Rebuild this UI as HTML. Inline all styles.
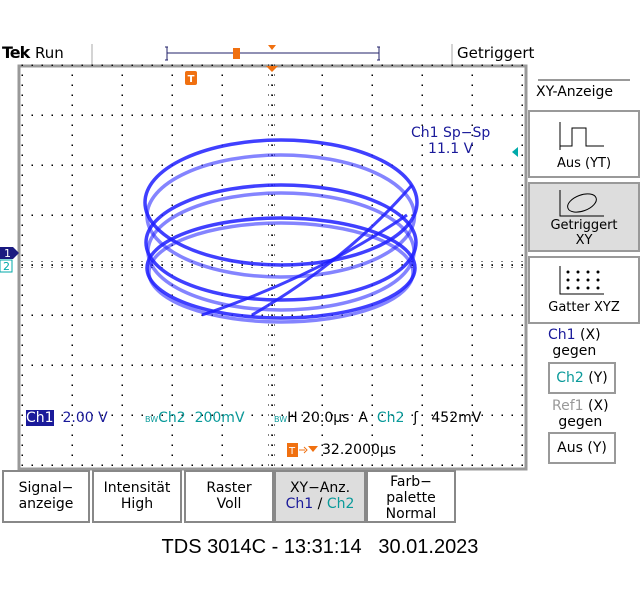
<!DOCTYPE html>
<html><head><meta charset="utf-8">
<style>
body{margin:0;width:640px;height:600px;background:#fff;font-family:"DejaVu Sans","Liberation Sans",sans-serif;position:relative;overflow:hidden}
.a{position:absolute}
.btn{position:absolute;top:470px;height:53px;border:2px solid #888;background:#fff;box-sizing:border-box;text-align:center;font-size:14px;line-height:16px;padding-top:8px;color:#000}
.rb{position:absolute;border:2px solid #999;background:#fff;box-sizing:border-box;text-align:center;font-size:13px}
</style></head><body>
<div class="a" style="left:2px;top:43px;font-weight:bold;font-size:16px;letter-spacing:-1px">Tek</div>
<div class="a" style="left:35px;top:44px;font-size:15px">Run</div>
<div class="a" style="left:457px;top:44px;font-size:15px">Getriggert</div>
<svg class="a" style="left:0;top:0" width="640" height="600">
<line x1="92" y1="44" x2="92" y2="65" stroke="#aaa"/>
<line x1="452" y1="44" x2="452" y2="65" stroke="#aaa"/>
<path d="M167 47v13M167 53h212M379 47v13M165 47h3M165 60h3M377 47h3M377 60h3" stroke="#22226a" fill="none"/>
<rect x="233" y="48" width="7" height="11" fill="#f07010"/>
<path d="M268 45h8l-4 5z" fill="#f07010"/>
<rect x="19" y="66" width="507" height="403" fill="#fff" stroke="#999" stroke-width="3"/>
<g id="grid"></g>
<path d="M266 66h12l-6 6z" fill="#f07010"/>
<rect x="185" y="71" width="12" height="14" rx="2" fill="#f07010"/>
<text x="191" y="82" font-size="10" fill="#fff" text-anchor="middle" font-weight="bold">T</text>
<g id="trace" fill="none" stroke="#1f1fff" stroke-width="3.5" stroke-opacity="0.85"></g>
<path d="M0 247h13l6 6-6 6H0z" fill="#1a1a80"/>
<text x="4" y="257" font-size="11" fill="#fff">1</text>
<rect x="0" y="260" width="12" height="12" fill="#fff" stroke="#0aa"/>
<text x="3" y="270" font-size="11" fill="#0aa">2</text>
<path d="M518 147v10l-6-5z" fill="#0aa"/>
<rect x="287" y="443" width="11" height="14" fill="#f07010"/>
<text x="292" y="454" font-size="10" fill="#fff" text-anchor="middle">T</text>
<path d="M299 450h6M304 447l3 3-3 3" stroke="#f07010" fill="none"/>
<path d="M308 446h10l-5 6z" fill="#f07010"/>
</svg>
<div class="a" style="left:411px;top:125px;font-size:14px;color:#1a1a9a;text-align:center;line-height:16px">Ch1 Sp−Sp<br>11.1 V</div>
<div class="a" style="left:26px;top:410px;font-size:14px;color:#1a1a9a"><span style="background:#1a1a9a;color:#fff">Ch1</span>&nbsp; 2.00 V</div>
<div class="a" style="left:145px;top:410px;font-size:14px;color:#0a9a9a"><span style="font-size:8px">BW</span>Ch2 &nbsp;200mV</div>
<div class="a" style="left:274px;top:410px;font-size:14px;color:#000"><span style="font-size:8px;color:#0a9a9a">BW</span>H 20.0µs &nbsp;A &nbsp;<span style="color:#0a9a9a">Ch2</span> &nbsp;ʃ &nbsp; 452mV</div>
<div class="a" style="left:322px;top:442px;font-size:14px">32.2000µs</div>
<div class="a" style="left:538px;top:79px;width:92px;border-top:2px solid #999"></div>
<div class="a" style="left:536px;top:84px;font-size:14px">XY-Anzeige</div>
<div class="rb" style="left:528px;top:110px;width:112px;height:68px;padding-top:44px">Aus (YT)
<svg class="a" style="left:28px;top:8px" width="50" height="32"><path d="M2 2v28M2 26h12v-18h14v18h18" stroke="#000" fill="none"/></svg></div>
<div class="rb" style="left:528px;top:182px;width:112px;height:70px;background:#ddd;padding-top:34px;line-height:15px">Getriggert<br>XY
<svg class="a" style="left:28px;top:4px" width="50" height="30"><path d="M2 2v26h44" stroke="#000" fill="none"/><ellipse cx="24" cy="15" rx="15" ry="8" transform="rotate(-20 24 15)" stroke="#000" fill="none"/></svg></div>
<div class="rb" style="left:528px;top:256px;width:112px;height:68px;padding-top:42px">Gatter XYZ
<svg class="a" style="left:28px;top:6px" width="50" height="32"><path d="M2 2v28h44" stroke="#000" fill="none"/><g fill="#000"><circle cx="10" cy="8" r="1.5"/><circle cx="20" cy="8" r="1.5"/><circle cx="30" cy="8" r="1.5"/><circle cx="40" cy="8" r="1.5"/><circle cx="10" cy="16" r="1.5"/><circle cx="20" cy="16" r="1.5"/><circle cx="30" cy="16" r="1.5"/><circle cx="40" cy="16" r="1.5"/><circle cx="10" cy="24" r="1.5"/><circle cx="20" cy="24" r="1.5"/><circle cx="30" cy="24" r="1.5"/><circle cx="40" cy="24" r="1.5"/></g></svg></div>
<div class="a" style="left:548px;top:327px;font-size:14px;text-align:center;line-height:16px"><span style="color:#1a1a9a">Ch1</span> (X)<br>gegen</div>
<div class="rb" style="left:548px;top:362px;width:68px;height:32px;padding-top:6px;font-size:14px;color:#0a9a9a">Ch2 <span style="color:#000">(Y)</span></div>
<div class="a" style="left:552px;top:398px;font-size:14px;text-align:center;line-height:16px"><span style="color:#999">Ref1</span> (X)<br>gegen</div>
<div class="rb" style="left:548px;top:432px;width:68px;height:32px;padding-top:6px;font-size:14px">Aus (Y)</div>
<div class="btn" style="left:2px;width:88px">Signal−<br>anzeige</div>
<div class="btn" style="left:92px;width:90px">Intensität<br>High</div>
<div class="btn" style="left:184px;width:90px">Raster<br>Voll</div>
<div class="btn" style="left:274px;width:92px;background:#ddd">XY−Anz.<br><span style="color:#1a1a9a">Ch1</span> / <span style="color:#0a9a9a">Ch2</span></div>
<div class="btn" style="left:366px;width:90px;padding-top:2px">Farb−<br>palette<br>Normal</div>
<div class="a" style="left:0;width:640px;top:536px;text-align:center;font-family:'Liberation Sans',sans-serif;font-size:20px">TDS 3014C - 13:31:14 &nbsp; 30.01.2023</div>
<script>
const loopTops=[2.5,2.2,1.6,1.44,0.94,0.84];
const loopBottoms=[0.0,-0.24,-0.7,-0.9,-1.06,-1.14];
const loopLeft=[-2.54,-2.5,-2.52,-2.48,-2.5,-2.46];
const loopRight=[2.9,2.85,2.88,2.84,2.86,2.82];
const diagX=[[-0.4,2.8],[-1.4,2.7]];
const diagY=[[-1.0,1.6],[-1.0,1.0]];
const sx=d=>272+d*50, sy=d=>265-d*50;
const NS='http://www.w3.org/2000/svg';
const g=document.getElementById('grid');
let s='';
for(let i=0;i<=10;i++){for(let j=0;j<=40;j++){const x=sx(i-5),y=sy(4-j*0.2);s+=`<rect x="${x-0.5}" y="${y-0.5}" width="1.5" height="1.5" fill="#000"/>`;}}
for(let j=0;j<=8;j++){for(let i=0;i<=50;i++){const x=sx(-5+i*0.2),y=sy(j-4);s+=`<rect x="${x-0.5}" y="${y-0.5}" width="1.5" height="1.5" fill="#000"/>`;}}
for(let k=0;k<=40;k++){const y=sy(4-k*0.2);s+=`<line x1="268" x2="276" y1="${y}" y2="${y}" stroke="#000" stroke-width="1" stroke-dasharray="1 2"/>`;}
for(let k=0;k<=50;k++){const x=sx(-5+k*0.2);s+=`<line y1="261" y2="269" x1="${x}" x2="${x}" stroke="#000" stroke-width="1" stroke-dasharray="1 2"/>`;}
g.innerHTML=s;
const t=document.getElementById('trace');
for(let i=0;i<loopTops.length;i++){
 const e=document.createElementNS(NS,'ellipse');
 
 
 const cx=(sx(loopLeft[i])+sx(loopRight[i]))/2, cy=(sy(loopTops[i])+sy(loopBottoms[i]))/2;
 e.setAttribute('cx',cx);e.setAttribute('cy',cy);
 e.setAttribute('rx',(sx(loopRight[i])-sx(loopLeft[i]))/2);
 e.setAttribute('ry',(sy(loopBottoms[i])-sy(loopTops[i]))/2);
 if(i%2)e.setAttribute('stroke-opacity','0.55');
 t.appendChild(e);
}
for(let i=0;i<diagX.length;i++){
 const l=document.createElementNS(NS,'path');
 
 
 const x1=sx(diagX[i][0]),x2=sx(diagX[i][1]),y1=sy(diagY[i][0]),y2=sy(diagY[i][1]);
 l.setAttribute('d',`M${x1} ${y1}Q${(x1+x2)/2+15} ${(y1+y2)/2+10} ${x2} ${y2}`);
 l.setAttribute('stroke-width','3');
 t.appendChild(l);
}
</script>
</body></html>
